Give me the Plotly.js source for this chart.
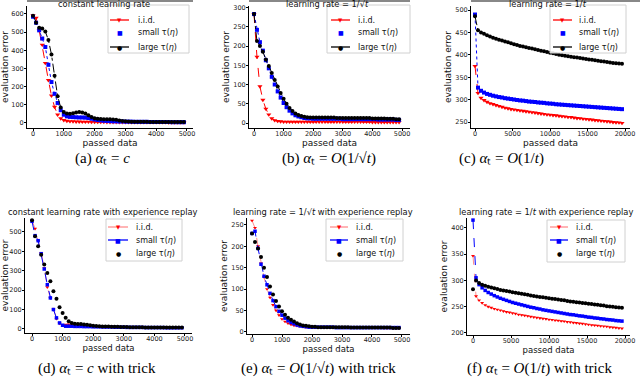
<!DOCTYPE html>
<html>
<head>
<meta charset="utf-8">
<script src="https://cdn.plot.ly/plotly-3.0.1.min.js"></script>
<style>
  html, body { margin: 0; padding: 0; background: #fff; }
  #fig { width: 640px; height: 383px; }
</style>
</head>
<body>
<div id="fig"></div>
<script>
// passed data (x) for the 5000 and 20000 panels
var x5k = [0,100,200,300,400,500,600,700,800,900,1000,1100,1200,1300,1400,1500,1600,1700,1800,1900,
  2000,2100,2200,2300,2400,2500,2600,2700,2800,2900,3000,3100,3200,3300,3400,3500,3600,3700,3800,3900,
  4000,4100,4200,4300,4400,4500,4600,4700,4800,4900];
var x20k = [0,400,800,1200,1600,2000,2400,2800,3200,3600,4000,4400,4800,5200,5600,6000,6400,6800,7200,7600,
  8000,8400,8800,9200,9600,10000,10400,10800,11200,11600,12000,12400,12800,13200,13600,14000,14400,14800,15200,15600,
  16000,16400,16800,17200,17600,18000,18400,18800,19200,19600];

// (a) constant learning rate
var a_iid = [592,578,510,430,330,235,150,88,45,25, 15,11,9,8,7,7,6,6,6,5, 5,5,5,5,4,4,4,4,4,4,
  4,4,3,3,3,3,3,3,3,3, 3,3,3,3,2,2,2,2,2,2];
var a_small = [585,552,510,465,418,320,225,160,110,70, 45,36,33,32,31,30,30,29,27,23, 19,16,14,12,11,10,9,9,8,8,
  7,7,7,6,6,6,6,6,5,5, 5,5,5,5,5,4,4,4,4,4];
var a_large = [590,552,524,520,503,457,377,260,147,85, 60,52,50,53,57,60,58,52,42,32, 26,23,21,20,20,20,19,17,14,11,
  9,8,7,7,6,6,6,6,5,5, 5,5,5,5,5,5,5,5,5,5];

// (b) learning rate 1/sqrt(t)
var b_iid = [283,172,95,60,37,22,12,7,5,4, 3,3,3,3,3,3,3,3,3,3, 3,3,3,3,3,3,3,3,3,3,
  3,3,3,3,3,3,3,3,3,3, 2,2,2,2,2,2,2,2,2,2];
var b_small = [283,242,210,188,163,142,120,100,82,66, 52,41,32,25,20,17,15,13,12,12, 11,11,11,11,11,11,11,11,11,11,
  10,10,10,10,10,10,10,10,10,10, 10,10,9,9,9,9,9,9,8,8];
var b_large = [283,213,200,185,165,148,130,112,95,78, 63,50,39,31,25,21,18,16,15,14, 14,14,14,14,14,14,14,14,13,13,
  13,13,13,13,13,13,13,13,13,13, 12,12,12,12,12,11,11,11,10,10];

// (c) learning rate 1/t
var c_iid = [375,315,304,299,295,292,290,288,286,284, 282,280.5,279,278,277,276,275,274,273,272,
  271,270,269,268,267,266.5,265.5,265,264,263, 262.5,261.5,261,260,259,258.5,257.5,257,256,255.5,
  254.5,254,253,252.5,251.5,251,250,249.5,249,248];
var c_small = [490,327,320,316,313,311,309,307.5,306,305, 303.5,302.5,301.5,300.5,299.5,298.5,298,297,296,295.5,
  295,294,293.5,293,292,291.5,291,290,289.5,289, 288.5,288,287.5,287,286.5,286,285.5,285,284.5,284,
  283.5,283,282.5,282,281.5,281,280.5,280,279.5,279];
var c_large = [486,455,450,447,444,441,438,436,434,432, 430,428,426,424,422,420,418.5,417,415.5,414,
  412.5,411,409.5,408,406.5,405,403.5,402,400.5,399, 398,397,396,395,394,393,392,391,390,389,
  388,387,386,385,384,383,382,381.5,381,380];

// (d) constant learning rate with experience replay
var d_iid = [560,517,454,392,314,215,160,100,52,28, 20,22,24,22,20,18,17,16,15,14, 13,12,11,11,10,10,10,9,9,9,
  9,8,8,8,8,8,7,7,7,7, 7,7,7,6,6,6,6,6,6,6];
var d_small = [555,481,455,388,309,228,160,100,57,31, 19,14,14,14,13,13,13,12,12,12, 11,11,11,10,10,10,10,9,9,9,
  9,8,8,8,8,8,8,7,7,7, 7,7,7,7,6,6,6,6,6,6];
var d_large = [560,478,426,383,332,289,246,194,155,112, 82,57,40,31,27,26,25,23,21,19, 17,15,14,13,12,12,11,11,11,10,
  10,10,9,9,9,9,9,8,8,8, 8,8,8,8,7,7,7,7,7,7];

// (e) learning rate 1/sqrt(t) with experience replay
var e_iid = [260,243,200,160,128,100,80,63,50,39, 30,24,20,17,15,14,13,12,11,11, 10,10,10,10,10,10,10,10,10,10,
  10,10,10,10,10,10,10,10,10,10, 10,10,10,10,9,9,9,9,9,9];
var e_small = [230,235,195,158,130,110,90,73,59,48, 39,32,26,22,19,16,14,13,12,11, 11,11,11,11,11,11,11,11,10,10,
  10,10,10,10,10,10,10,10,10,10, 10,10,10,10,10,10,10,10,10,10];
var e_large = [230,210,195,175,150,128,106,87,72,59, 48,40,33,28,24,20,17,15,14,13, 12,12,11,11,11,11,11,11,11,11,
  11,11,11,10,10,10,10,10,10,10, 10,10,10,10,10,10,10,9,9,9];

// (f) learning rate 1/t with experience replay
var f_iid = [347,270,262,257,253,250,248,246,244.5,243, 241.5,240,239,237.5,236.5,235,234,233,232,231,
  230,229,228,227,226.5,225.5,225,224,223.5,222.5, 222,221,220.5,219.5,219,218,217.5,216.5,216,215,
  214.5,214,213,212.5,212,211,210.5,210,209,208.5];
var f_small = [415,305,292,286,281,277,274,271,268.5,266, 264,262,260,258,256.5,255,253.5,252,250.5,249,
  248,246.5,245.5,244,243,242,241,240,239,238, 237,236,235,234.5,233.5,232.5,232,231,230,229.5,
  228.5,228,227,226.5,225.5,225,224.5,223.5,223,222.5];
var f_large = [283,300,295,292,290,288,286.5,285,283.5,282, 281,280,279,277.5,276.5,275.5,274.5,273.5,272.5,271.5,
  270.5,269.5,268.5,268,267,266,265,264.5,263.5,262.5, 262,261,260,259.5,258.5,258,257,256.5,255.5,255,
  254,253.5,252.5,252,251,250.5,250,249,248.5,248];

var seriesNames = ['i.i.d.', 'small τ(<i>η</i>)', 'large τ(<i>η</i>)'];
var titles = ['constant learning rate', 'learning rate = 1/√<i>t</i>', 'learning rate = 1/<i>t</i>',
  'constant learning rate with experience replay', 'learning rate = 1/√<i>t</i> with experience replay',
  'learning rate = 1/<i>t</i> with experience replay'];
var captions = ['(a) <i>α</i>ₜ = <i>c</i>', '(b) <i>α</i>ₜ = <i>O</i>(1/√<i>t</i>)',
  '(c) <i>α</i>ₜ = <i>O</i>(1/<i>t</i>)', '(d) <i>α</i>ₜ = <i>c</i> with trick',
  '(e) <i>α</i>ₜ = <i>O</i>(1/√<i>t</i>) with trick', '(f) <i>α</i>ₜ = <i>O</i>(1/<i>t</i>) with trick'];

var W = 640, H = 383;
function px(x) { return x / W; }
function py(y) { return 1 - y / H; }

// pixel boxes of each panel, axis ranges and text positions
var panels = [
  {x: x5k,  ys: [a_iid, a_small, a_large], xd: [27, 193],  yd: [6, 128],   xr: [-195, 5195],  yr: [-28, 644], xdt: 1000, ydt: 100, t0: 0,
   title: [104, 4], cap: [102, 158],
   leg: {box: [108, 189, 5, 53], line: [110, 129], tx: 136, rows: [20, 33, 47]}},
  {x: x5k,  ys: [b_iid, b_small, b_large], xd: [249, 410], yd: [6, 128],   xr: [-169, 5270],  yr: [-13, 304], xdt: 1000, ydt: 50, t0: 0,
   title: [327, 4], cap: [329, 158],
   leg: {box: [327, 410, 5, 53], line: [331, 350], tx: 356, rows: [20, 33, 47]}},
  {x: x20k, ys: [c_iid, c_small, c_large], xd: [471, 630], yd: [6, 128],   xr: [-533, 20667], yr: [237, 509], xdt: 5000, ydt: 50, t0: 250,
   title: [548, 4], cap: [501, 158],
   leg: {box: [550, 626, 5, 53], line: [553, 572], tx: 577, rows: [20, 33, 47]}},
  {x: x5k,  ys: [d_iid, d_small, d_large], xd: [25, 192],  yd: [218, 333], xr: [-229, 5229],  yr: [-21, 572], xdt: 1000, ydt: 100, t0: 0,
   title: [103, 212], cap: [97, 368],
   leg: {box: [106, 182, 219, 261], line: [108, 128], tx: 134, rows: [227, 240, 253]}},
  {x: x5k,  ys: [e_iid, e_small, e_large], xd: [247, 410], yd: [218, 334], xr: [-167, 5267],  yr: [-5, 266], xdt: 1000, ydt: 50, t0: 0,
   title: [323, 212], cap: [318, 368],
   leg: {box: [326, 403, 219, 261], line: [330, 348], tx: 354, rows: [227, 240, 253]}},
  {x: x20k, ys: [f_iid, f_small, f_large], xd: [467, 630], yd: [218, 335], xr: [-789, 20658], yr: [196, 419], xdt: 5000, ydt: 50, t0: 200,
   title: [546, 212], cap: [539, 368],
   leg: {box: [547, 625, 220, 262], line: [550, 568], tx: 574, rows: [227, 240, 253]}}
];

// trace styles: first row, then the "with trick" row
var styles = [
  [{mode: 'lines+markers', color: '#ff0000', line: {color: '#ff0000', width: 1, dash: 'dash'}, symbol: 'triangle-down', size: 4.5},
   {mode: 'lines+markers', color: '#0000ff', line: {color: '#0000ff', width: 1, dash: 'dot'}, symbol: 'square', size: 4},
   {mode: 'lines+markers', color: '#000000', line: {color: '#000000', width: 1, dash: 'dashdot'}, symbol: 'circle', size: 4}],
  [{mode: 'lines+markers', color: '#ff0000', line: {color: 'rgba(255,0,0,0.45)', width: 1, dash: 'dash'}, symbol: 'triangle-down', size: 3.5},
   {mode: 'lines+markers', color: '#0000ff', line: {color: '#0000ff', width: 1, dash: 'dash'}, symbol: 'square', size: 3.5},
   {mode: 'markers', color: '#000000', line: {color: '#000000', width: 1}, symbol: 'circle', size: 4}]
];
var legendGlyphs = ['▼', '■', '●'];
var legendLines = [
  ['#ff0000', null, '#000000'],
  ['rgba(255,0,0,0.45)', '#0000ff', null]
];

var tickFont = {family: 'DejaVu Sans', size: 6.5, color: '#222'};
var labelFont = {family: 'DejaVu Sans', size: 9, color: '#111'};
var data = [];
var layout = {
  width: W, height: H,
  margin: {l: 0, r: 0, t: 0, b: 0},
  paper_bgcolor: '#fff', plot_bgcolor: '#fff',
  showlegend: false,
  annotations: [], shapes: []
};

panels.forEach(function (p, i) {
  var sfx = i === 0 ? '' : String(i + 1);
  var row = i < 3 ? 0 : 1;
  for (var s = 0; s < 3; s++) {
    var st = styles[row][s];
    data.push({
      type: 'scatter', mode: st.mode, x: p.x, y: p.ys[s], name: seriesNames[s],
      xaxis: 'x' + sfx, yaxis: 'y' + sfx,
      line: st.line,
      marker: {symbol: st.symbol, size: st.size, color: st.color, line: {width: 0}},
      cliponaxis: false
    });
  }
  layout['xaxis' + sfx] = {
    domain: [px(p.xd[0]), px(p.xd[1])], range: p.xr, anchor: 'y' + sfx,
    tick0: 0, dtick: p.xdt, tickformat: 'd', showgrid: false, zeroline: false,
    showline: true, linecolor: '#000', linewidth: 1,
    ticks: 'outside', ticklen: 2, tickcolor: '#000', tickfont: tickFont, ticklabelstandoff: -3,
    title: {text: 'passed data', standoff: 0, font: {family: 'DejaVu Sans', size: row ? 8.5 : 9, color: '#111'}}
  };
  layout['yaxis' + sfx] = {
    domain: [py(p.yd[1]), py(p.yd[0])], range: p.yr, anchor: 'x' + sfx,
    tick0: p.t0, dtick: p.ydt, tickformat: 'd', showgrid: false, zeroline: false,
    showline: true, linecolor: '#000', linewidth: 1,
    ticks: 'outside', ticklen: 2, tickcolor: '#000', tickfont: tickFont, ticklabelstandoff: -1,
    title: {text: 'evaluation error', standoff: 2, font: labelFont}
  };

  var ann = layout.annotations;
  ann.push({xref: 'paper', yref: 'paper', x: px(p.title[0]), y: py(p.title[1]), text: titles[i],
    showarrow: false, xanchor: 'center', yanchor: 'middle', font: {family: 'DejaVu Sans', size: 8.3, color: '#111'}});
  ann.push({xref: 'paper', yref: 'paper', x: px(p.cap[0]), y: py(p.cap[1]), text: captions[i],
    showarrow: false, xanchor: 'center', yanchor: 'middle', font: {family: 'Liberation Serif', size: 15, color: '#000'}});

  // legend box
  var L = p.leg;
  layout.shapes.push({type: 'rect', xref: 'paper', yref: 'paper', x0: px(L.box[0]), x1: px(L.box[1]),
    y0: py(L.box[3]), y1: py(L.box[2]), fillcolor: 'rgba(255,255,255,0.85)', line: {color: '#d0d0d0', width: 1}});
  for (var k = 0; k < 3; k++) {
    var lc = legendLines[row][k];
    if (lc) {
      layout.shapes.push({type: 'line', xref: 'paper', yref: 'paper', x0: px(L.line[0]), x1: px(L.line[1]),
        y0: py(L.rows[k]), y1: py(L.rows[k]), line: {color: lc, width: 1.3}});
    }
    ann.push({xref: 'paper', yref: 'paper', x: px((L.line[0] + L.line[1]) / 2), y: py(L.rows[k]), text: legendGlyphs[k],
      showarrow: false, xanchor: 'center', yanchor: 'middle',
      font: {family: 'DejaVu Sans', size: k === 0 ? 5.5 : 6, color: styles[row][k].color}});
    ann.push({xref: 'paper', yref: 'paper', x: px(L.tx), y: py(L.rows[k]), text: seriesNames[k],
      showarrow: false, xanchor: 'left', yanchor: 'middle', font: {family: 'DejaVu Sans', size: 8, color: '#111'}});
  }
  // grey frame edge on top of first-row panels
  if (row === 0) {
    layout.shapes.push({type: 'line', xref: 'paper', yref: 'paper', x0: px(p.xd[0]), x1: px(i === 2 ? 640 : p.xd[1]),
      y0: py(1), y1: py(1), line: {color: '#888', width: 2}, layer: 'below'});
  }
});

Plotly.newPlot('fig', data, layout, {staticPlot: true, displayModeBar: false});
</script>
</body>
</html>
